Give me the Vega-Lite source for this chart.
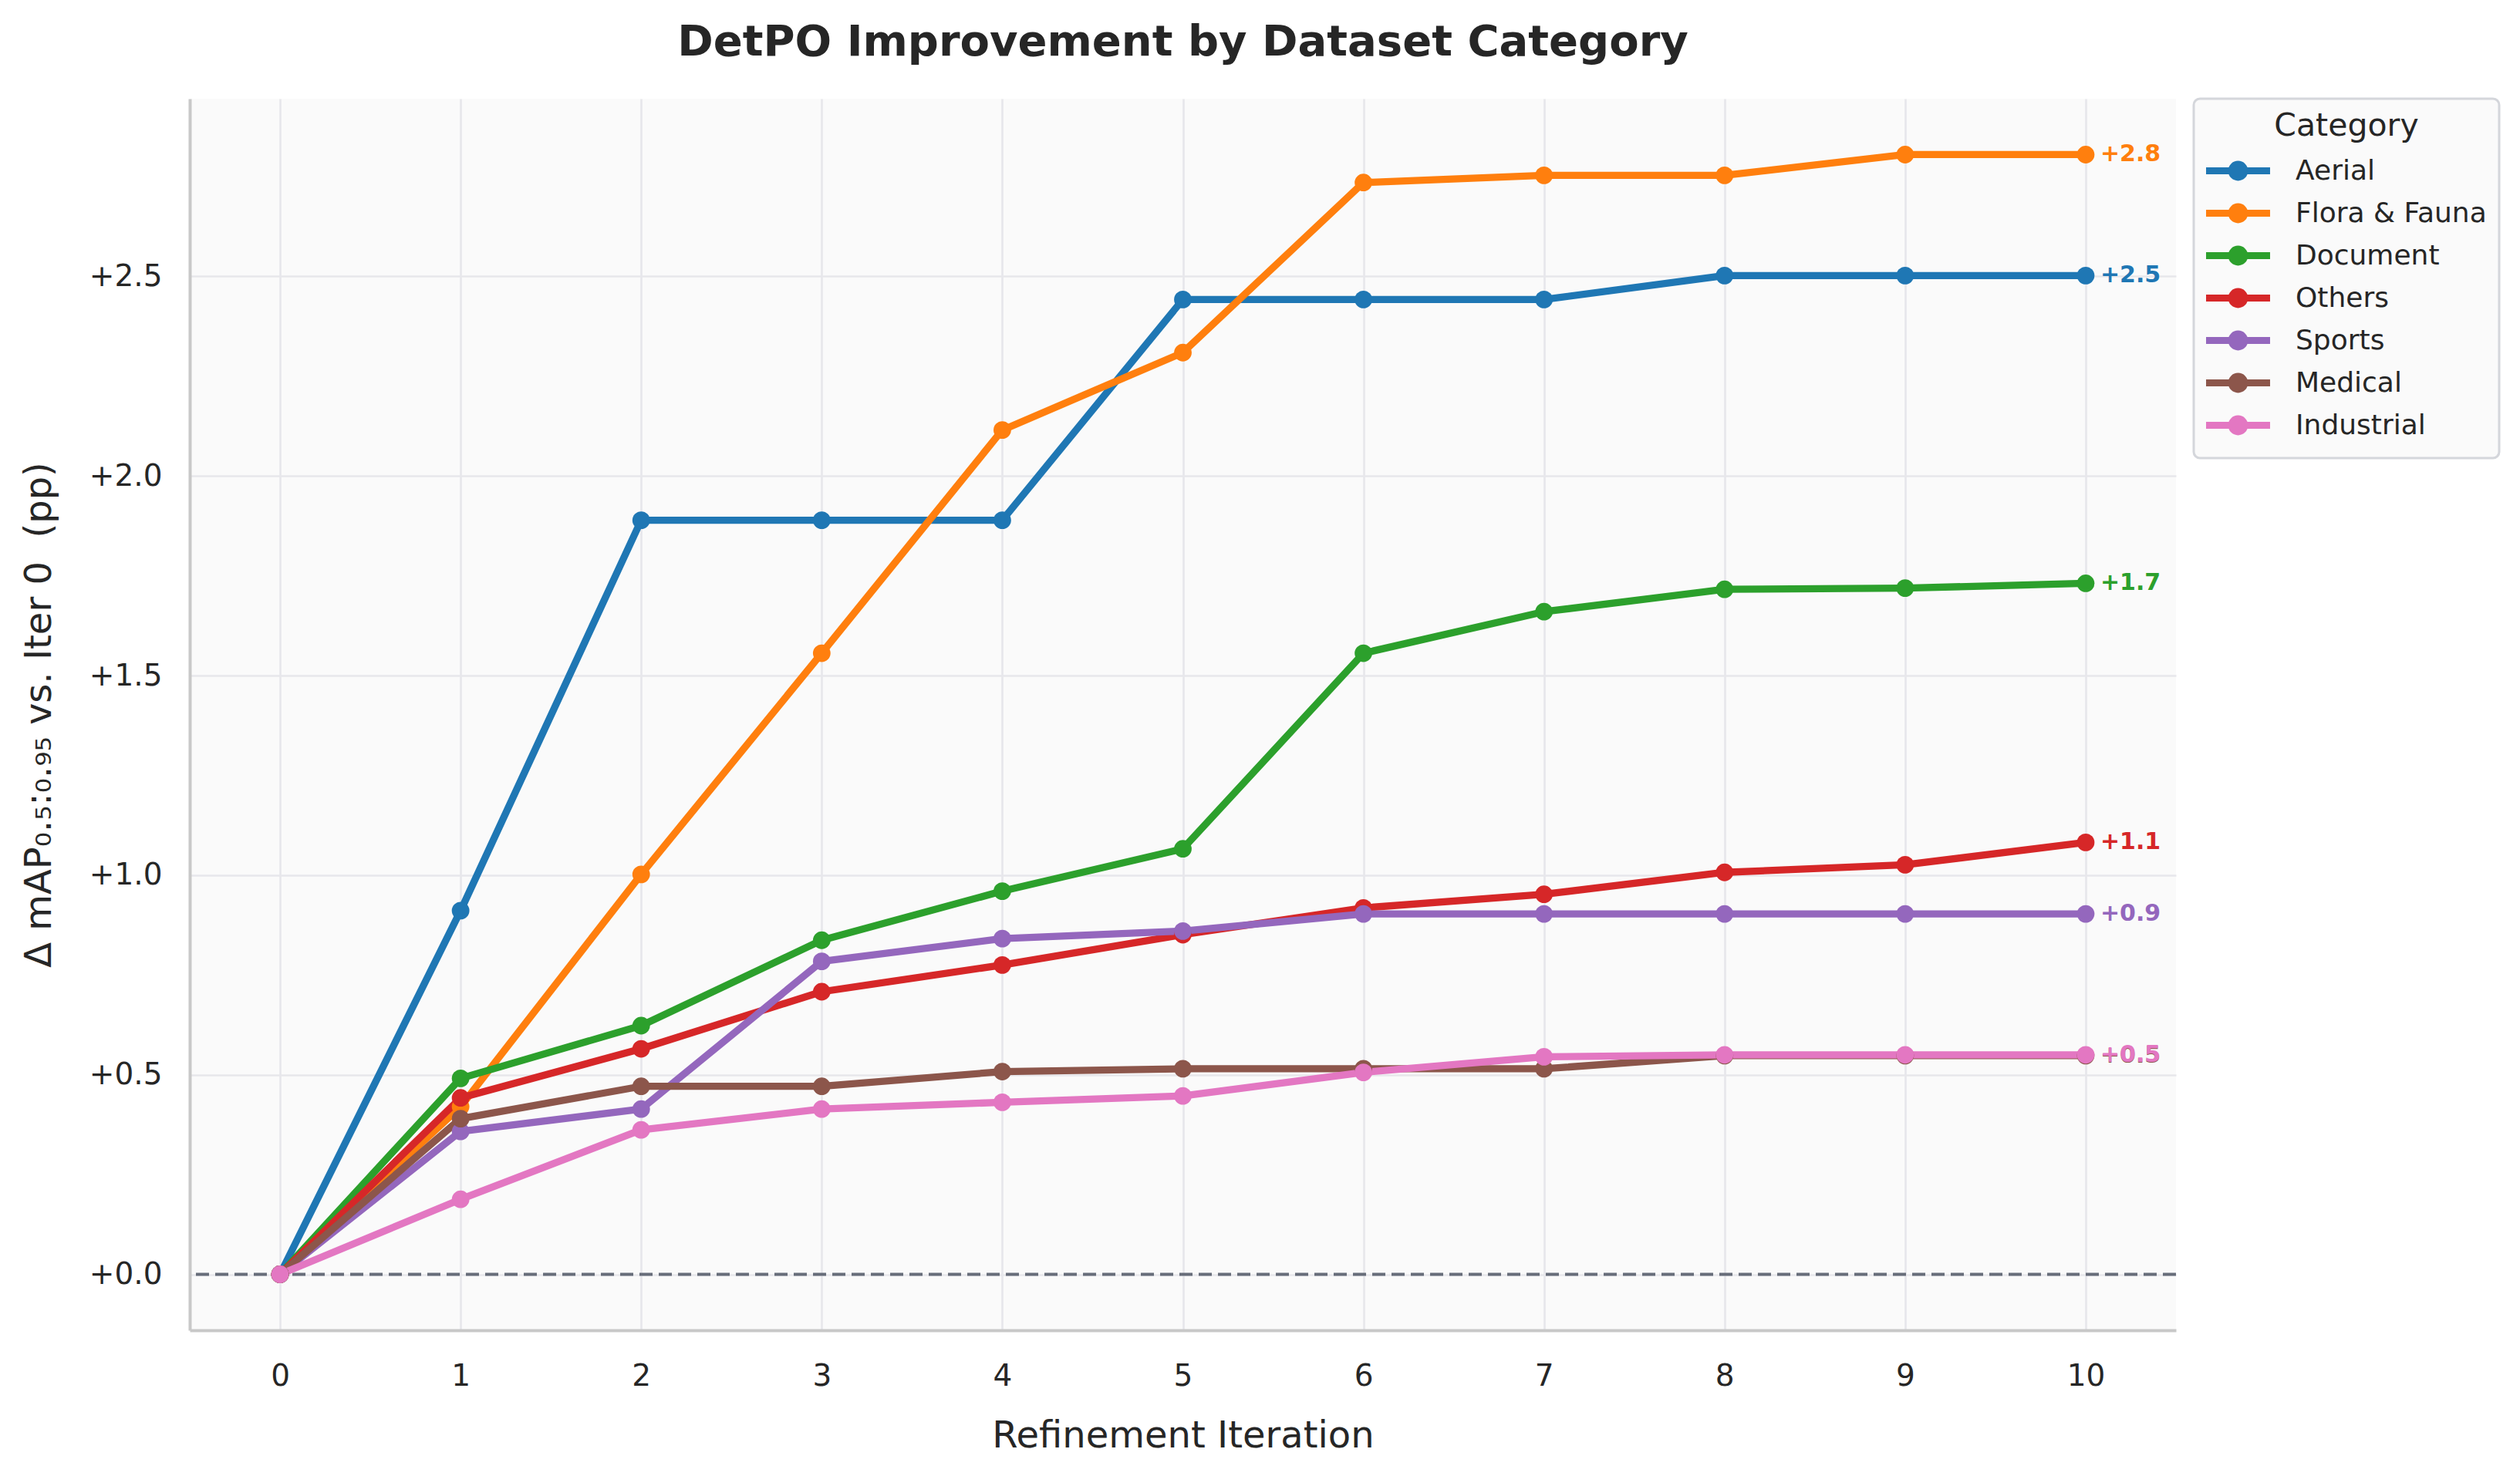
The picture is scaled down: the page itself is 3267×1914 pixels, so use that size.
{
  "$schema": "https://vega.github.io/schema/vega-lite/v6.json",
  "width": 2575,
  "height": 1597,
  "autosize": {"type": "none"},
  "padding": {"left": 246, "top": 128, "right": 446, "bottom": 189},
  "background": "white",
  "title": {
    "text": "DetPO Improvement by Dataset Category",
    "fontSize": 56,
    "fontWeight": "bold",
    "color": "#262626",
    "anchor": "middle",
    "offset": 43
  },
  "data": {
    "values": [
      {"Category": "Aerial", "Iteration": 0, "Delta": 0},
      {"Category": "Aerial", "Iteration": 1, "Delta": 0.911},
      {"Category": "Aerial", "Iteration": 2, "Delta": 1.889},
      {"Category": "Aerial", "Iteration": 3, "Delta": 1.889},
      {"Category": "Aerial", "Iteration": 4, "Delta": 1.889},
      {"Category": "Aerial", "Iteration": 5, "Delta": 2.442},
      {"Category": "Aerial", "Iteration": 6, "Delta": 2.442},
      {"Category": "Aerial", "Iteration": 7, "Delta": 2.442},
      {"Category": "Aerial", "Iteration": 8, "Delta": 2.502},
      {"Category": "Aerial", "Iteration": 9, "Delta": 2.502},
      {"Category": "Aerial", "Iteration": 10, "Delta": 2.502},
      {"Category": "Flora & Fauna", "Iteration": 0, "Delta": 0},
      {"Category": "Flora & Fauna", "Iteration": 1, "Delta": 0.42},
      {"Category": "Flora & Fauna", "Iteration": 2, "Delta": 1.002},
      {"Category": "Flora & Fauna", "Iteration": 3, "Delta": 1.556},
      {"Category": "Flora & Fauna", "Iteration": 4, "Delta": 2.115},
      {"Category": "Flora & Fauna", "Iteration": 5, "Delta": 2.309},
      {"Category": "Flora & Fauna", "Iteration": 6, "Delta": 2.735},
      {"Category": "Flora & Fauna", "Iteration": 7, "Delta": 2.753},
      {"Category": "Flora & Fauna", "Iteration": 8, "Delta": 2.753},
      {"Category": "Flora & Fauna", "Iteration": 9, "Delta": 2.805},
      {"Category": "Flora & Fauna", "Iteration": 10, "Delta": 2.805},
      {"Category": "Document", "Iteration": 0, "Delta": 0},
      {"Category": "Document", "Iteration": 1, "Delta": 0.491},
      {"Category": "Document", "Iteration": 2, "Delta": 0.623},
      {"Category": "Document", "Iteration": 3, "Delta": 0.837},
      {"Category": "Document", "Iteration": 4, "Delta": 0.96},
      {"Category": "Document", "Iteration": 5, "Delta": 1.066},
      {"Category": "Document", "Iteration": 6, "Delta": 1.556},
      {"Category": "Document", "Iteration": 7, "Delta": 1.66},
      {"Category": "Document", "Iteration": 8, "Delta": 1.716},
      {"Category": "Document", "Iteration": 9, "Delta": 1.719},
      {"Category": "Document", "Iteration": 10, "Delta": 1.731},
      {"Category": "Others", "Iteration": 0, "Delta": 0},
      {"Category": "Others", "Iteration": 1, "Delta": 0.442},
      {"Category": "Others", "Iteration": 2, "Delta": 0.565},
      {"Category": "Others", "Iteration": 3, "Delta": 0.708},
      {"Category": "Others", "Iteration": 4, "Delta": 0.775},
      {"Category": "Others", "Iteration": 5, "Delta": 0.851},
      {"Category": "Others", "Iteration": 6, "Delta": 0.918},
      {"Category": "Others", "Iteration": 7, "Delta": 0.952},
      {"Category": "Others", "Iteration": 8, "Delta": 1.007},
      {"Category": "Others", "Iteration": 9, "Delta": 1.026},
      {"Category": "Others", "Iteration": 10, "Delta": 1.082},
      {"Category": "Sports", "Iteration": 0, "Delta": 0},
      {"Category": "Sports", "Iteration": 1, "Delta": 0.358},
      {"Category": "Sports", "Iteration": 2, "Delta": 0.414},
      {"Category": "Sports", "Iteration": 3, "Delta": 0.784},
      {"Category": "Sports", "Iteration": 4, "Delta": 0.841},
      {"Category": "Sports", "Iteration": 5, "Delta": 0.86},
      {"Category": "Sports", "Iteration": 6, "Delta": 0.903},
      {"Category": "Sports", "Iteration": 7, "Delta": 0.903},
      {"Category": "Sports", "Iteration": 8, "Delta": 0.903},
      {"Category": "Sports", "Iteration": 9, "Delta": 0.903},
      {"Category": "Sports", "Iteration": 10, "Delta": 0.903},
      {"Category": "Medical", "Iteration": 0, "Delta": 0},
      {"Category": "Medical", "Iteration": 1, "Delta": 0.39},
      {"Category": "Medical", "Iteration": 2, "Delta": 0.471},
      {"Category": "Medical", "Iteration": 3, "Delta": 0.471},
      {"Category": "Medical", "Iteration": 4, "Delta": 0.508},
      {"Category": "Medical", "Iteration": 5, "Delta": 0.515},
      {"Category": "Medical", "Iteration": 6, "Delta": 0.515},
      {"Category": "Medical", "Iteration": 7, "Delta": 0.515},
      {"Category": "Medical", "Iteration": 8, "Delta": 0.548},
      {"Category": "Medical", "Iteration": 9, "Delta": 0.548},
      {"Category": "Medical", "Iteration": 10, "Delta": 0.548},
      {"Category": "Industrial", "Iteration": 0, "Delta": 0},
      {"Category": "Industrial", "Iteration": 1, "Delta": 0.188},
      {"Category": "Industrial", "Iteration": 2, "Delta": 0.362},
      {"Category": "Industrial", "Iteration": 3, "Delta": 0.414},
      {"Category": "Industrial", "Iteration": 4, "Delta": 0.431},
      {"Category": "Industrial", "Iteration": 5, "Delta": 0.447},
      {"Category": "Industrial", "Iteration": 6, "Delta": 0.506},
      {"Category": "Industrial", "Iteration": 7, "Delta": 0.545},
      {"Category": "Industrial", "Iteration": 8, "Delta": 0.55},
      {"Category": "Industrial", "Iteration": 9, "Delta": 0.55},
      {"Category": "Industrial", "Iteration": 10, "Delta": 0.55}
    ]
  },
  "encoding": {
    "x": {
      "field": "Iteration",
      "type": "quantitative",
      "scale": {"domain": [-0.5, 10.5], "nice": false, "zero": false},
      "axis": {
        "title": "Refinement Iteration",
        "values": [0, 1, 2, 3, 4, 5, 6, 7, 8, 9, 10],
        "format": "d",
        "labelPadding": 40,
        "titlePadding": 34
      }
    },
    "y": {
      "field": "Delta",
      "type": "quantitative",
      "scale": {"domain": [-0.14, 2.945], "nice": false, "zero": false},
      "axis": {
        "title": "Δ mAP₀.₅:₀.₉₅ vs. Iter 0\u00a0 (pp)",
        "values": [0, 0.5, 1, 1.5, 2, 2.5],
        "labelExpr": "'+' + format(datum.value, '.1f')",
        "labelPadding": 36,
        "titlePadding": 40
      }
    }
  },
  "layer": [
    {
      "data": {"values": [{"Delta": 0}]},
      "mark": {"type": "rule", "color": "#676d7a", "strokeWidth": 4, "strokeDash": [17, 8]},
      "encoding": {"x": null, "y": {"field": "Delta", "type": "quantitative"}}
    },
    {
      "mark": {
        "type": "line",
        "strokeWidth": 9.3,
        "strokeJoin": "round",
        "point": {"filled": true, "size": 520, "opacity": 1}
      },
      "encoding": {
        "color": {
          "field": "Category",
          "type": "nominal",
          "sort": null,
          "scale": {
            "domain": ["Aerial", "Flora & Fauna", "Document", "Others", "Sports", "Medical", "Industrial"],
            "range": ["#1f77b4", "#ff7f0e", "#2ca02c", "#d62728", "#9467bd", "#8c564b", "#e377c2"]
          },
          "legend": {
            "title": "Category",
            "orient": "right",
            "offset": 23,
            "padding": 16,
            "cornerRadius": 8,
            "strokeColor": "#d4d6db",
            "fillColor": "#fafafa",
            "titleFontSize": 41,
            "titleFontWeight": "normal",
            "titleColor": "#262626",
            "titleAnchor": "middle",
            "titleAlign": "center",
            "titlePadding": 12,
            "titleLimit": 600,
            "labelFontSize": 36,
            "labelColor": "#262626",
            "labelLimit": 600,
            "labelOffset": 50,
            "symbolOffset": 17,
            "symbolType": "M-2.075,0L2.075,0M-0.42,0A0.42,0.42 0 1,1 0.42,0A0.42,0.42 0 1,1 -0.42,0Z",
            "symbolSize": 1600,
            "symbolStrokeWidth": 9,
            "rowPadding": 2,
            "encode": {
              "legend": {"update": {"strokeWidth": {"value": 3}}},
              "symbols": {
                "update": {
                  "fill": {"scale": "color", "field": "value"},
                  "stroke": {"scale": "color", "field": "value"},
                  "opacity": {"value": 1}
                }
              }
            }
          }
        }
      }
    },
    {
      "data": {
        "values": [
          {"Category": "Aerial", "Iteration": 10, "Delta": 2.502, "label": "+2.5"},
          {"Category": "Flora & Fauna", "Iteration": 10, "Delta": 2.805, "label": "+2.8"},
          {"Category": "Document", "Iteration": 10, "Delta": 1.731, "label": "+1.7"},
          {"Category": "Others", "Iteration": 10, "Delta": 1.082, "label": "+1.1"},
          {"Category": "Sports", "Iteration": 10, "Delta": 0.903, "label": "+0.9"},
          {"Category": "Medical", "Iteration": 10, "Delta": 0.548, "label": "+0.5"},
          {"Category": "Industrial", "Iteration": 10, "Delta": 0.55, "label": "+0.5"}
        ]
      },
      "mark": {"type": "text", "align": "left", "baseline": "middle", "dx": 19, "fontSize": 30, "fontWeight": "bold"},
      "encoding": {
        "text": {"field": "label"},
        "color": {"field": "Category", "type": "nominal", "legend": null}
      }
    }
  ],
  "config": {
    "font": "DejaVu Sans",
    "view": {"fill": "#fafafa", "stroke": null},
    "axis": {
      "domainColor": "#c8c8c8",
      "domainWidth": 4,
      "gridColor": "#e7e7eb",
      "gridWidth": 2.7,
      "ticks": false,
      "labelFontSize": 39,
      "labelColor": "#262626",
      "titleFontSize": 48,
      "titleFontWeight": "normal",
      "titleColor": "#262626"
    }
  }
}
